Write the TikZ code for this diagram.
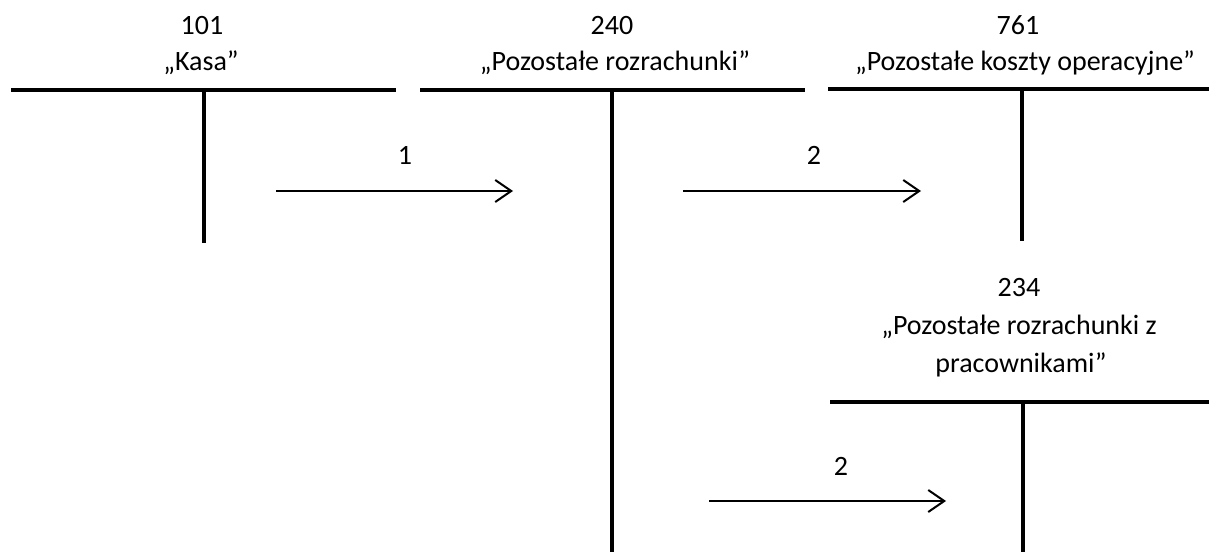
\documentclass[tikz,border=0pt]{standalone}
\usepackage{fontspec}
\setmainfont{Carlito}
\usetikzlibrary{arrows.meta}
\begin{document}
\begin{tikzpicture}[x=1pt,y=-1pt,
  lbl/.style={anchor=base,inner sep=0pt,font=\fontsize{28}{34}\selectfont},
  tline/.style={line width=4pt},
  flow/.style={line width=2pt,-{Straight Barb[length=16pt,width=22pt,line width=2pt]}}]
\useasboundingbox (0,0) rectangle (1209,552);

% account 101
\node[lbl] (n101) at (202,34) {101};
\node[lbl] (t101) at (201,70) {„Kasa”};
\coordinate (a1l) at (11,90); \coordinate (a1r) at (396,90);
\coordinate (a1t) at (204,90); \coordinate (a1b) at (204,243);
\draw[tline] (a1l) -- (a1r); \draw[tline] (a1t) -- (a1b);

% account 240
\node[lbl] (n240) at (612,34) {240};
\node[lbl] (t240) at (615,70) {„Pozostałe rozrachunki”};
\coordinate (a2l) at (420,90); \coordinate (a2r) at (805,90);
\coordinate (a2t) at (612,90); \coordinate (a2b) at (612,552);
\draw[tline] (a2l) -- (a2r); \draw[tline] (a2t) -- (a2b);

% account 761
\node[lbl] (n761) at (1018,34) {761};
\node[lbl] (t761) at (1025,70) {„Pozostałe koszty operacyjne”};
\coordinate (a3l) at (828,89); \coordinate (a3r) at (1209,89);
\coordinate (a3t) at (1022,89); \coordinate (a3b) at (1022,241);
\draw[tline] (a3l) -- (a3r); \draw[tline] (a3t) -- (a3b);

% account 234
\node[lbl] (n234) at (1019,296) {234};
\node[lbl] (t234a) at (1019,334) {„Pozostałe rozrachunki z};
\node[lbl] (t234b) at (1021,372) {pracownikami”};
\coordinate (a4l) at (830,402); \coordinate (a4r) at (1209,402);
\coordinate (a4t) at (1023,402); \coordinate (a4b) at (1023,552);
\draw[tline] (a4l) -- (a4r); \draw[tline] (a4t) -- (a4b);

% postings
\coordinate (f1s) at (276,191); \coordinate (f1e) at (513,191);
\draw[flow] (f1s) -- (f1e);
\node[lbl] (l1) at (405,164) {1};
\coordinate (f2s) at (683,191); \coordinate (f2e) at (921,191);
\draw[flow] (f2s) -- (f2e);
\node[lbl] (l2) at (814,164) {2};
\coordinate (f3s) at (709,501); \coordinate (f3e) at (946,501);
\draw[flow] (f3s) -- (f3e);
\node[lbl] (l3) at (841,475) {2};
\end{tikzpicture}
\end{document}
